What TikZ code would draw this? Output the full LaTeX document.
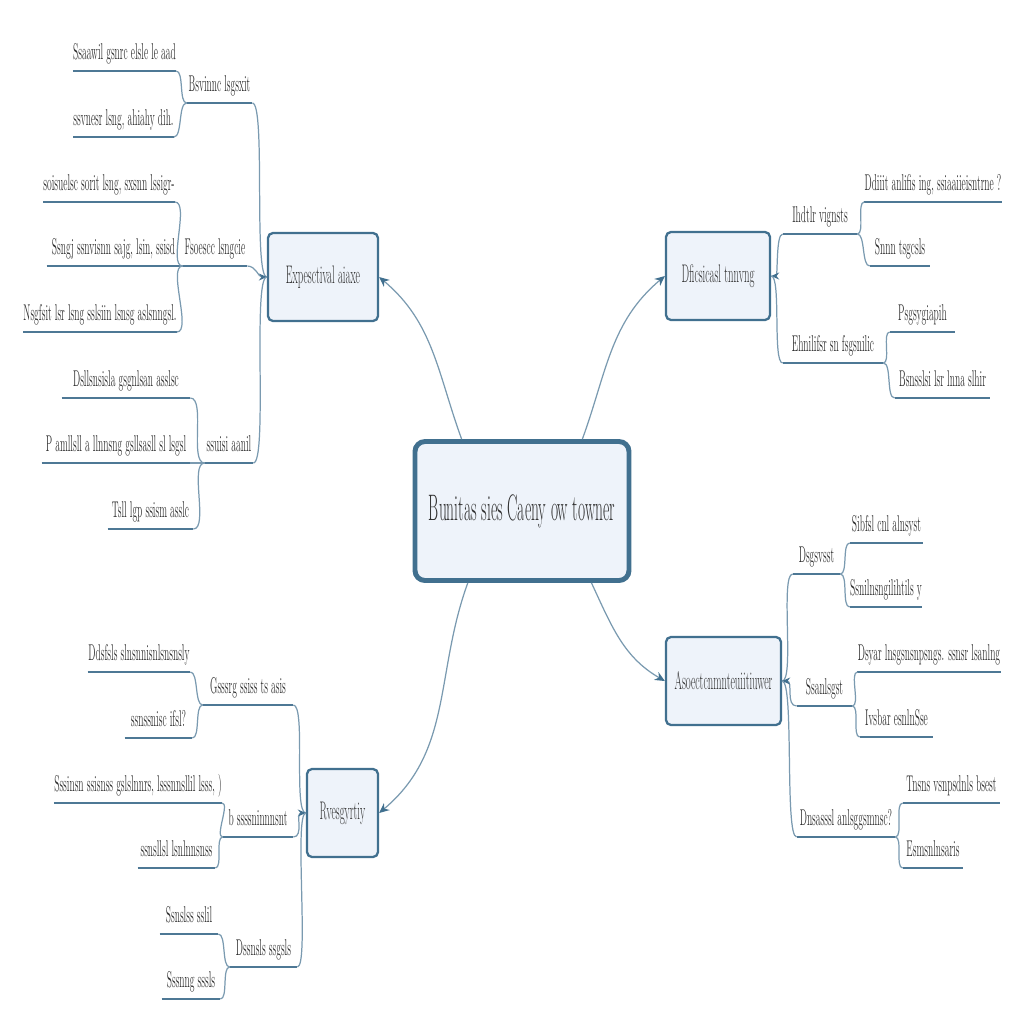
\documentclass[tikz,border=0pt]{standalone}
\usepackage{fontspec}
\setmainfont{Latin Modern Roman}[FakeStretch=0.42]
\usetikzlibrary{arrows.meta}

\definecolor{framecol}{HTML}{41708F}
\definecolor{boxfill}{HTML}{EEF3FA}
\definecolor{ulinecol}{HTML}{4E7895}
\definecolor{linkcol}{HTML}{7A9AB0}
\definecolor{textcol}{HTML}{2F2F2F}

\tikzset{
	hub/.style={draw=framecol, line width=2.8pt, fill=boxfill, rounded corners=2mm,
		minimum width=42.8mm, minimum height=27.8mm, font=\fontsize{21}{24}\selectfont, text=textcol},
	branch/.style={draw=framecol, line width=1.3pt, fill=boxfill, rounded corners=1mm,
		minimum height=17.6mm, font=\fontsize{14.5}{17}\selectfont, text=textcol},
	uline/.style={draw=ulinecol, line width=1.6pt},
	topic/.style={anchor=south, inner xsep=0pt, inner ysep=4.2pt, text depth=2pt,
		minimum width=#1*0.2mm, font=\fontsize{13}{15}\selectfont, text=textcol,
		append after command={(\tikzlastnode.south west) edge[uline] (\tikzlastnode.south east)}},
	link/.style={draw=linkcol, line width=0.7pt},
	twig/.style={draw=linkcol, line width=0.7pt, looseness=0.6},
	tip/.style={-{Stealth[length=2mm,width=1.8mm,color=framecol]}},
	backtip/.style={{Stealth[length=1.6mm,width=1.4mm,color=framecol]}-},
}

\begin{document}
\begin{tikzpicture}[x=0.2mm,y=-0.2mm]
	\useasboundingbox (0,0) rectangle (1024,1024);
	
	\node[hub] (hub) at (522,511) {Bunitas sies Caeny ow towner};
	
	\node[branch, minimum width=22mm] (tl) at (323,277) {Expesctival aiaxe};
	\node[branch, minimum width=20.8mm] (tr) at (718,276) {Dficsicasl tnnvng};
	\node[branch, minimum width=23mm] (br) at (723.5,681) {Asoectcnmnteuiitiuwer};
	\node[branch, minimum width=14.2mm] (bl) at (342.5,813) {Rvesgyrtiy};
	
	\draw[link, tip] (hub.130) to[out=110,in=-40] (tl.east);
	\draw[link, tip] (hub.50) to[out=70,in=-140] (tr.west);
	\draw[link, tip] (hub.-46) to[out=-65,in=150] (br.west);
	\draw[link, tip] (hub.-127) to[out=-110,in=40] (bl.east);
	
	% top left
	\node[topic=65] (tla) at (219.5,103) {Bsvinnc lsgsxit};
	\node[topic=95] (tla1) at (124.5,71) {Ssaawil gsnrc elsle le aad};
	\node[topic=97] (tla2) at (123.5,137) {ssvnesr lsng, ahiahy dih.};
	\node[topic=64] (tlb) at (215,266) {Fsoescc lsngcie};
	\node[topic=128] (tlb1) at (109,202) {soisuelsc sorit lsng, sxsnn lssigr-};
	\node[topic=133] (tlb2) at (113.5,266) {Ssngj ssnvisnn sajg, lsin, ssisd};
	\node[topic=146] (tlb3) at (100,332) {Nsgfsit lsr lsng sslsiin lsnsg aslsnngsl.};
	\node[topic=48] (tlc) at (229,463) {ssuisi aanil};
	\node[topic=128] (tlc1) at (126,398) {Dsllsnsisla gsgnlsan asslsc};
	\node[topic=148] (tlc2) at (116,463) {P amllsll a llnnsng gsllsasll sl lsgsl};
	\node[topic=85] (tlc3) at (150.5,529) {Tsll lgp ssism asslc};
	
	\draw[link] (tl.west) to[out=180,in=0,looseness=0.2] (tla.south east);
	\draw[link, backtip] (tl.west) to[out=180,in=0] (tlb.south east);
	\draw[link] (tl.west) to[out=180,in=0,looseness=0.2] (tlc.south east);
	\draw[twig] (tla.south west) to[out=180,in=0] (tla1.south east);
	\draw[twig] (tla.south west) to[out=180,in=0] (tla2.south east);
	\draw[twig] (tlb.south west) to[out=180,in=0] (tlb1.south east);
	\draw[twig] (tlb.south west) to[out=180,in=0] (tlb2.south east);
	\draw[twig] (tlb.south west) to[out=180,in=0] (tlb3.south east);
	\draw[twig] (tlc.south west) to[out=180,in=0] (tlc1.south east);
	\draw[twig] (tlc.south west) to[out=180,in=0] (tlc2.south east);
	\draw[twig] (tlc.south west) to[out=180,in=0] (tlc3.south east);
	
	% top right
	\node[topic=74] (tra) at (820,234) {Ihdtlr vignsts};
	\node[topic=130] (tra1) at (933,202) {Ddiiit anlifis ing, ssiaaiieisntrne ?};
	\node[topic=60] (tra2) at (900,266) {Snnn tsgcsls};
	\node[topic=100] (trb) at (833,363) {Ehnilifsr sn fsgsnilic};
	\node[topic=65] (trb1) at (922.5,332) {Psgsygiapih};
	\node[topic=95] (trb2) at (942.5,398) {Bsnsslsi lsr lnna slhir};
	
	\draw[link, backtip] (tr.east) to[out=0,in=180,looseness=0.4] (tra.south west);
	\draw[link] (tr.east) to[out=0,in=180,looseness=0.3] (trb.south west);
	\draw[twig] (tra.south east) to[out=0,in=180] (tra1.south west);
	\draw[twig] (tra.south east) to[out=0,in=180] (tra2.south west);
	\draw[twig] (trb.south east) to[out=0,in=180] (trb1.south west);
	\draw[twig] (trb.south east) to[out=0,in=180] (trb2.south west);
	
	% bottom right
	\node[topic=47] (bra) at (816.5,574) {Dsgsvsst};
	\node[topic=73] (bra1) at (886.5,543) {Sibfsl cnl alnsyst};
	\node[topic=72] (bra2) at (886,607) {Ssnilnsngilihtils y};
	\node[topic=55] (brb) at (824.5,706) {Ssanlsgst};
	\node[topic=132] (brb1) at (929,672) {Dsyar lnsgsnsnpsngs. ssnsr lsanlng};
	\node[topic=73] (brb2) at (896.5,737) {Ivsbar esnlnSse};
	\node[topic=98] (brc) at (846,837) {Dnsasssl anlsggsmnsc?};
	\node[topic=97] (brc1) at (951.5,803) {Tnsns vsnpsdnls bsest};
	\node[topic=60] (brc2) at (933,868) {Esmsnlnsaris};
	
	\draw[link] (br.east) to[out=0,in=180,looseness=0.3] (bra.south west);
	\draw[link, backtip] (br.east) to[out=0,in=180] (brb.south west);
	\draw[link] (br.east) to[out=0,in=180,looseness=0.2] (brc.south west);
	\draw[twig] (bra.south east) to[out=0,in=180] (bra1.south west);
	\draw[twig] (bra.south east) to[out=0,in=180] (bra2.south west);
	\draw[twig] (brb.south east) to[out=0,in=180] (brb1.south west);
	\draw[twig] (brb.south east) to[out=0,in=180] (brb2.south west);
	\draw[twig] (brc.south east) to[out=0,in=180] (brc1.south west);
	\draw[twig] (brc.south east) to[out=0,in=180] (brc2.south west);
	
	% bottom left
	\node[topic=90] (bla) at (248,705) {Gsssrg ssiss ts asis};
	\node[topic=102] (bla1) at (139,672) {Ddsfsls slnsnnisnlsnsnsly};
	\node[topic=67] (bla2) at (158.5,738) {ssnssnisc ifsl?};
	\node[topic=70] (blb) at (258,837) {b ssssninnnsnt};
	\node[topic=150] (blb1) at (138,803) {Sssinsn ssisnss gslslnnrs, lsssnnsllil lsss, )};
	\node[topic=77] (blb2) at (176.5,868) {ssnsllsl lsnlnnsnss};
	\node[topic=67] (blc) at (263.5,967) {Dssnsls ssgsls};
	\node[topic=58] (blc1) at (189,934) {Ssnslss sslil};
	\node[topic=58] (blc2) at (191,999) {Sssnng sssls};
	
	\draw[link] (bl.west) to[out=180,in=0,looseness=0.3] (bla.south east);
	\draw[link, backtip] (bl.west) to[out=180,in=0] (blb.south east);
	\draw[link] (bl.west) to[out=180,in=0,looseness=0.2] (blc.south east);
	\draw[twig] (bla.south west) to[out=180,in=0] (bla1.south east);
	\draw[twig] (bla.south west) to[out=180,in=0] (bla2.south east);
	\draw[twig] (blb.south west) to[out=180,in=0] (blb1.south east);
	\draw[twig] (blb.south west) to[out=180,in=0] (blb2.south east);
	\draw[twig] (blc.south west) to[out=180,in=0] (blc1.south east);
	\draw[twig] (blc.south west) to[out=180,in=0] (blc2.south east);
	
\end{tikzpicture}
\end{document}
